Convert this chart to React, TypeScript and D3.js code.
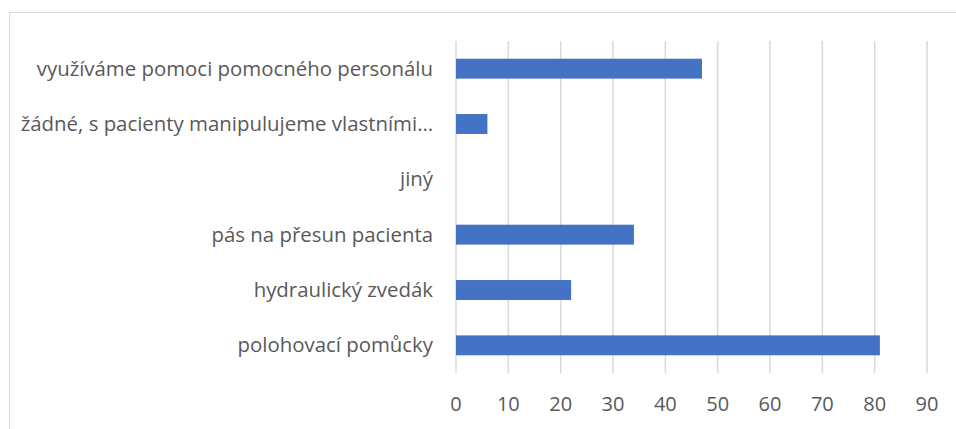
import React, { useRef, useEffect } from 'react';
import * as d3 from 'd3';

const categories = [
  'využíváme pomoci pomocného personálu',
  'žádné, s pacienty manipulujeme vlastními…',
  'jiný',
  'pás na přesun pacienta',
  'hydraulický zvedák',
  'polohovací pomůcky',
];
const values = [47, 6, 0, 34, 22, 81];
const xTicks = [0, 10, 20, 30, 40, 50, 60, 70, 80, 90];

const App = () => {
  const ref = useRef<SVGSVGElement>(null);

  useEffect(() => {
    const svg = d3.select(ref.current);
    svg.selectAll('*').remove();

    const width = 956;
    const height = 429;
    const margin = { top: 41, right: 29, bottom: 56, left: 456 };
    const font = '"Open Sans", sans-serif';

    // chart frame (cut off at right and bottom)
    svg.append('rect')
      .attr('x', 9.5)
      .attr('y', 12.5)
      .attr('width', width + 20)
      .attr('height', height + 20)
      .attr('fill', '#fff')
      .attr('stroke', '#d9d9d9')
      .attr('stroke-width', 1);

    const x = d3.scaleLinear()
      .domain([0, 90])
      .range([margin.left, width - margin.right]);

    const y = d3.scaleBand()
      .domain(categories)
      .range([margin.top, height - margin.bottom])
      .paddingInner(0.64)
      .paddingOuter(0.32);

    // gridlines
    svg.append('g')
      .selectAll('line')
      .data(xTicks)
      .enter().append('line')
      .attr('x1', d => x(d))
      .attr('x2', d => x(d))
      .attr('y1', margin.top)
      .attr('y2', height - margin.bottom)
      .attr('stroke', '#d9d9d9')
      .attr('stroke-width', 1.5);

    // bars
    svg.append('g')
      .selectAll('rect')
      .data(categories)
      .enter().append('rect')
      .attr('x', x(0))
      .attr('y', d => y(d)!)
      .attr('width', (d, i) => x(values[i]) - x(0))
      .attr('height', y.bandwidth())
      .attr('fill', '#4472c4');

    // category labels
    svg.append('g')
      .selectAll('text')
      .data(categories)
      .enter().append('text')
      .attr('x', margin.left - 23)
      .attr('y', d => y(d)! + y.bandwidth() / 2)
      .attr('dy', '0.35em')
      .attr('text-anchor', 'end')
      .attr('font-family', font)
      .attr('font-size', 20.4)
      .attr('fill', '#595959')
      .text(d => d);

    // x tick labels
    svg.append('g')
      .selectAll('text')
      .data(xTicks)
      .enter().append('text')
      .attr('x', d => x(d))
      .attr('y', 404)
      .attr('dy', '0.35em')
      .attr('text-anchor', 'middle')
      .attr('font-family', font)
      .attr('font-size', 20)
      .attr('fill', '#595959')
      .text(d => d);
  }, []);

  return (
    <svg ref={ref} width={956} height={429} style={{ display: 'block', position: 'absolute', left: 0, top: 0 }} />
  );
};

export default App;
